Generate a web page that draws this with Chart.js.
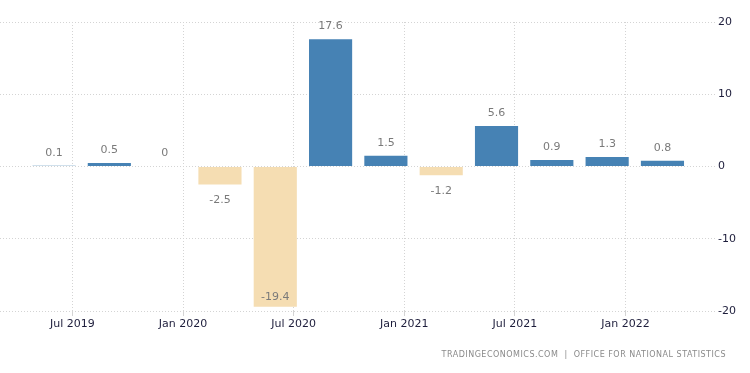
<!DOCTYPE html>
<html>
<head>
<meta charset="utf-8">
<script src="https://cdn.jsdelivr.net/npm/chart.js@4.4.0/dist/chart.umd.min.js"></script>
<style>
  html, body { margin: 0; padding: 0; background: #fff; }
  #wrap { position: relative; width: 750px; height: 373px; }
  #source {
    position: absolute; right: 24px; top: 350px;
    font-family: "DejaVu Sans", sans-serif; font-size: 8px;
    letter-spacing: 0.5px; color: #8a8a8a; white-space: nowrap;
  }
</style>
</head>
<body>
<div id="wrap">
  <canvas id="chart" width="750" height="373"></canvas>
  <div id="source">TRADINGECONOMICS.COM &nbsp;|&nbsp; OFFICE FOR NATIONAL STATISTICS</div>
</div>
<script>
// months counted from Jan 2019 (0 = Jan 2019); each bar sits on the last month of its quarter
const barMonths = [5, 8, 11, 14, 17, 20, 23, 26, 29, 32, 35, 38];
const growth = [0.1, 0.5, 0, -2.5, -19.4, 17.6, 1.5, -1.2, 5.6, 0.9, 1.3, 0.8];
const tickMonths = [6, 12, 18, 24, 30, 36];
const tickLabels = ["Jul 2019", "Jan 2020", "Jul 2020", "Jan 2021", "Jul 2021", "Jan 2022"];
const yTicks = [-20, -10, 0, 10, 20];

const BLUE = "#4682b4";
const TAN = "#f5ddb2";

const valueLabels = {
  id: "valueLabels",
  afterDatasetsDraw(chart) {
    const ctx = chart.ctx;
    const area = chart.chartArea;
    const meta = chart.getDatasetMeta(0);
    ctx.save();
    ctx.font = "11px 'DejaVu Sans', sans-serif";
    ctx.fillStyle = "#7a7a7a";
    ctx.textAlign = "center";
    ctx.textBaseline = "middle";
    meta.data.forEach((bar, i) => {
      const v = growth[i];
      let y = v >= 0 ? bar.y - 13 : bar.y + 16;
      y = Math.min(y, area.bottom - 14);
      ctx.fillText(String(v), bar.x, y);
    });
    ctx.restore();
  },
};

new Chart(document.getElementById("chart"), {
  type: "bar",
  data: {
    datasets: [
      {
        data: barMonths.map((m, i) => ({ x: m, y: growth[i] })),
        backgroundColor: growth.map((v) => (v < 0 ? TAN : BLUE)),
        borderWidth: 0,
        barPercentage: 0.78,
        categoryPercentage: 1,
      },
    ],
  },
  plugins: [valueLabels],
  options: {
    responsive: false,
    animation: false,
    layout: { padding: { top: 22, left: 0, right: 0, bottom: 0 } },
    plugins: {
      legend: { display: false },
      tooltip: { enabled: false },
    },
    scales: {
      x: {
        type: "linear",
        offset: false,
        min: 2.07,
        max: 40.85,
        afterFit: (s) => {
          s.height = 62;
        },
        afterBuildTicks: (s) => {
          s.ticks = tickMonths.map((v) => ({ value: v }));
        },
        ticks: {
          callback: (v) => tickLabels[tickMonths.indexOf(v)],
          color: "#1d1d3b",
          font: { family: "'DejaVu Sans', sans-serif", size: 11 },
          padding: 2,
          maxRotation: 0,
        },
        grid: {
          offset: false,
          color: "#d4d4d4",
          lineWidth: 1,
          tickLength: 5,
          drawTicks: true,
        },
        border: { display: false, dash: [1, 2] },
      },
      y: {
        position: "right",
        min: -20,
        max: 20,
        afterFit: (s) => {
          s.width = 35;
        },
        afterBuildTicks: (s) => {
          s.ticks = yTicks.map((v) => ({ value: v }));
        },
        ticks: {
          color: "#1d1d3b",
          font: { family: "'DejaVu Sans', sans-serif", size: 11 },
          padding: 3,
        },
        grid: {
          color: "#d4d4d4",
          lineWidth: 1,
          drawTicks: false,
        },
        border: { display: false, dash: [1, 2] },
      },
    },
  },
});
</script>
</body>
</html>
